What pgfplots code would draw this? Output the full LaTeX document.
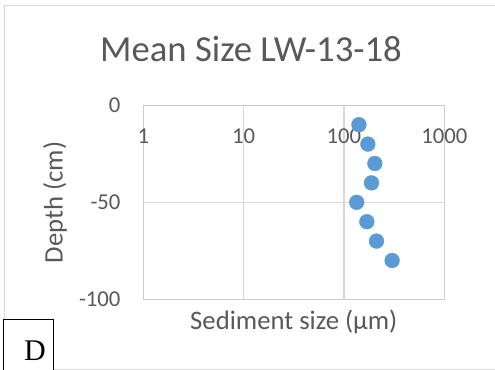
\documentclass[border=0pt]{standalone}
\usepackage{fontspec}
\setmainfont{Carlito}
\newfontfamily\timesfont{Liberation Serif}
\usepackage{pgfplots}
\pgfplotsset{compat=1.18}
\definecolor{txt}{HTML}{595959}
\definecolor{gridc}{HTML}{D9D9D9}
\definecolor{axc}{HTML}{CCCCCC}
\definecolor{ptc}{HTML}{5B9BD5}
\begin{document}
\begin{tikzpicture}
\useasboundingbox (0,0) rectangle (495bp,370bp);
\fill[white] (0,0) rectangle (495bp,370bp);
\draw[gridc, line width=1bp] (495bp,364bp) -- (4bp,364bp) -- (4bp,1bp) -- (495bp,1bp);
\begin{axis}[
  at={(143.3bp,70.7bp)}, anchor=south west,
  scale only axis, width=301bp, height=194bp,
  xmode=log, xmin=1, xmax=1000, ymin=-100, ymax=0,
  xtick={1,10,100,1000}, xticklabels={1,10,100,1000},
  ytick={-100,-50,0},
  major tick length=0pt, minor tick length=0pt,
  xmajorgrids, ymajorgrids, grid style={gridc, line width=1.5bp},
  axis line style={axc, line width=1.5bp},
  /pgf/number format/assume math mode=true,
  xticklabel pos=upper,
  xticklabel style={font=\fontsize{22.7bp}{27bp}\selectfont, text=txt, anchor=center, inner sep=0pt, yshift=-30.8bp},
  yticklabel style={font=\fontsize{22.7bp}{27bp}\selectfont, text=txt, anchor=east, inner sep=0pt, xshift=-22.6bp},
  xlabel={Sediment size (µm)},
  ylabel={Depth (cm)},
  xlabel style={font=\fontsize{26.7bp}{32bp}\selectfont, text=txt, at={(axis description cs:0.5,-0.158)}, anchor=base, inner sep=0pt},
  ylabel style={font=\fontsize{26.7bp}{32bp}\selectfont, text=txt, at={(axis description cs:-0.2678,0.5)}, anchor=base, inner sep=0pt},
  clip=false,
]
\addplot[only marks, mark=*, mark size=7.4bp, mark options={fill=ptc, draw=ptc}] coordinates {
(141,-10) (173,-20) (203,-30) (188,-40) (134,-50) (169,-60) (211,-70) (302,-80)
};
\end{axis}
\node[anchor=base, text=txt, font=\fontsize{36.7bp}{44bp}\selectfont, inner sep=0pt] at (251bp,308bp) {Mean Size LW-13-18};
\draw[black, fill=white, line width=1bp] (3bp,-1bp) rectangle (53bp,50bp);
\node[font=\timesfont\fontsize{30bp}{36bp}\selectfont, inner sep=0pt] at (35bp,19bp) {D};
\end{tikzpicture}
\end{document}
